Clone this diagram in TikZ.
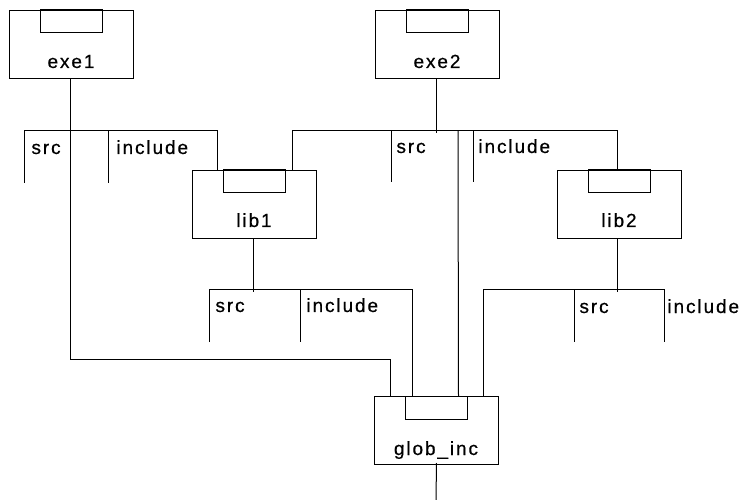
\documentclass[tikz,border=0pt]{standalone}
\usepackage{fontspec}
\setmainfont{Liberation Sans}[LetterSpace=10,FakeBold=0.6]
\begin{document}
\begin{tikzpicture}[x=1pt,y=-1pt,
  line width=1pt,
  modbox/.style={draw, rectangle, minimum width=124pt, minimum height=68pt, inner sep=0pt, anchor=north west},
  lbl/.style={font=\fontsize{19}{22}\selectfont, inner sep=0pt}]
\useasboundingbox (0,0) rectangle (748,500);
% boxes
\node[modbox] (exe1) at (9,10) {};
\node[modbox] (exe2) at (375,10) {};
\node[modbox] (lib1) at (192,170) {};
\node[modbox] (lib2) at (557,170) {};
\node[modbox] (glob) at (374,396) {};
% tabs
\foreach \b in {exe1,exe2,lib1,lib2,glob}{
  \draw ([xshift=-31pt]\b.north) rectangle ++(62,23);
}
% box labels
\node[lbl, anchor=base] (exe1t) at (71,68) {exe1};
\node[lbl, anchor=base] (exe2t) at (437,68) {exe2};
\node[lbl, anchor=base] (lib1t) at (254,227) {lib1};
\node[lbl, anchor=base] (lib2t) at (619,227) {lib2};
\node[lbl, anchor=base] (globt) at (436,455) {glob\_inc};
% folder labels
\node[lbl, anchor=base west] (s1) at (31,154) {src};
\node[lbl, anchor=base west] (i1) at (116,154) {include};
\node[lbl, anchor=base west] (s2) at (396,153) {src};
\node[lbl, anchor=base west] (i2) at (478,153) {include};
\node[lbl, anchor=base west] (s3) at (215,312) {src};
\node[lbl, anchor=base west] (i3) at (306,312) {include};
\node[lbl, anchor=base west] (s4) at (579,313) {src};
\node[lbl, anchor=base west] (i4) at (667,313) {include};
% coordinates
\coordinate (bottom) at (436,500);
\coordinate (j1) at (617,131);
% exe1
\draw ([xshift=-1pt]exe1.south) -- ++(0,280) -| ([xshift=-46pt]glob.north);
\draw (24,183) -- (24,131) -| ([xshift=-37pt]lib1.north);
\draw (108,131) -- (108,183);
% exe2
\draw ([xshift=-1pt]exe2.south) -- ++(0,54);
\draw ([xshift=38pt]lib1.north) |- (j1) -- (j1 |- lib2.north);
\draw (391,131) -- (391,182);
\draw (473,131) -- (473,182);
\draw (458,131) -- ([xshift=22pt]glob.north);
% lib1
\draw ([xshift=-1pt]lib1.south) -- ++(0,53);
\draw (209,342) -- (209,290) -| ([xshift=-24pt]glob.north);
\draw (300,290) -- (300,342);
% lib2
\draw (j1 |- lib2.south) -- ++(0,53);
\draw ([xshift=47pt]glob.north) |- (664,290) -- (664,342);
\draw (574,290) -- (574,342);
% glob bottom
\draw ([yshift=2pt]glob.south) -- (bottom);
\end{tikzpicture}
\end{document}
